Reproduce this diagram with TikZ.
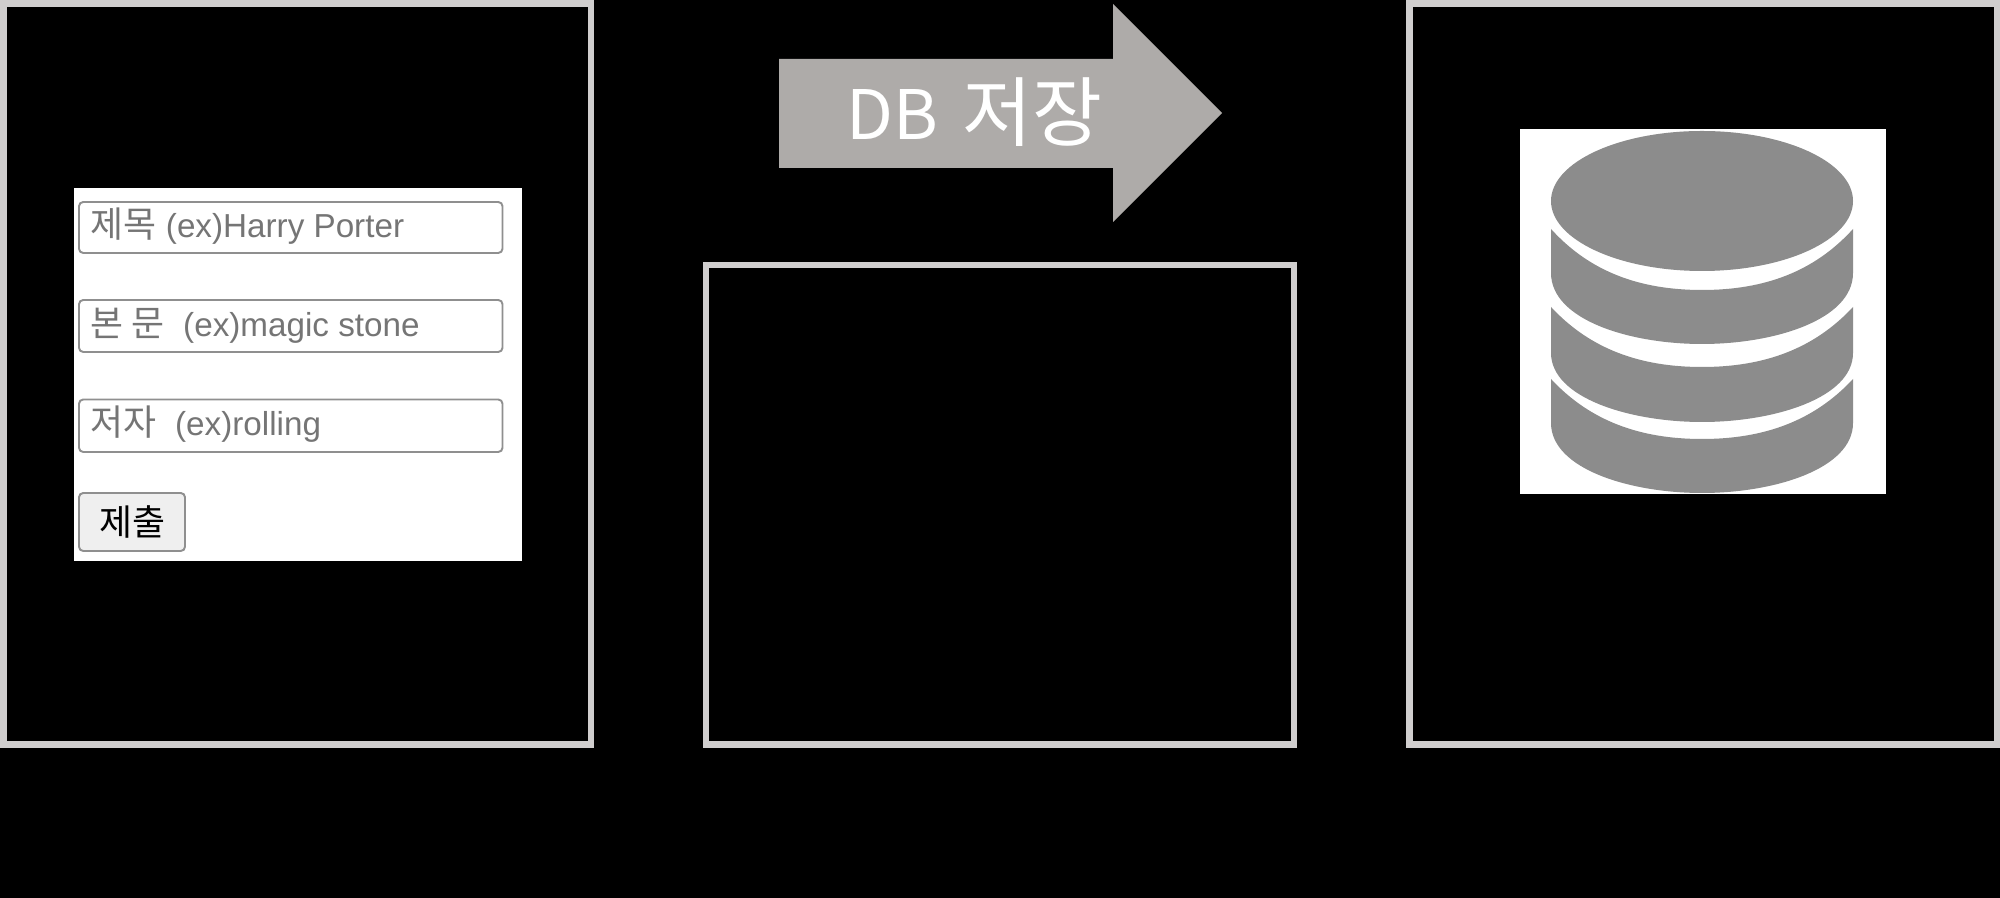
\documentclass[tikz,border=0pt]{standalone}
\usepackage{fontspec}
\setmainfont{Liberation Sans}
\newfontfamily\cjk{Noto Sans CJK KR}
\newcommand{\kor}[1]{{\cjk\fontsize{10.2}{12}\selectfont #1}}
\usetikzlibrary{calc}
\definecolor{framegray}{HTML}{D0CECE}
\definecolor{arrowgray}{HTML}{AEABA9}
\definecolor{fieldgray}{HTML}{8F8F8F}
\definecolor{hintgray}{HTML}{757575}
\definecolor{dbgray}{HTML}{8C8C8C}
\definecolor{btngray}{HTML}{EFEFEF}
\tikzset{
    framebox/.style={draw=framegray, line width=1.95pt},
    fieldbox/.style={draw=fieldgray, fill=white, line width=0.55pt, rounded corners=1.2pt},
    hinttext/.style={anchor=base west, inner sep=0pt, text=hintgray, font=\fontsize{9.45}{12}\selectfont}
}
\begin{document}
\begin{tikzpicture}[x=0.01cm,y=-0.01cm]
        %LATAR
        \fill[black] (0,0) rectangle (2000,898);
        \useasboundingbox (0,0) rectangle (2000,898);

        %BINGKAI
        \draw[framebox] (3.4,3.4) rectangle (591,744.5);
        \draw[framebox] (706,265) rectangle (1294,744.5);
        \draw[framebox] (1409.3,3.4) rectangle (1997,744.5);

        %PANAH
        \coordinate (P1) at (779,59);
        \coordinate (P2) at (1113,59);
        \coordinate (P3) at (1113,4);
        \coordinate (P4) at (1222,113);
        \coordinate (P5) at (1113,222);
        \coordinate (P6) at (1113,168);
        \coordinate (P7) at (779,168);
        \fill[arrowgray] (P1) -- (P2) -- (P3) -- (P4) -- (P5) -- (P6) -- (P7) -- cycle;
        \node[white, anchor=base west, inner sep=0pt, font=\cjk\fontsize{19.4}{24}\selectfont] (saveA) at (846,140) {DB};
        \node[white, anchor=base west, inner sep=0pt, font=\cjk\fontsize{21.6}{26}\selectfont] (saveB) at (962,141) {저장};

        %FORMULIR
        \fill[white] (74,188) rectangle (522,561.5);
        \draw[fieldbox] (79,202) rectangle (502.5,253);
        \draw[fieldbox] (79,300) rectangle (502.5,352);
        \draw[fieldbox] (79,399.5) rectangle (502.5,452);
        \draw[fieldbox, fill=btngray] (79,493) rectangle (185,551);
        \node[hinttext] (title) at (90,238) {\kor{제목} (ex)Harry Porter};
        \node[hinttext] (body) at (90,337) {\kor{본 문}\ \ (ex)magic stone};
        \node[hinttext] (author) at (90,436) {\kor{저자}\ \ (ex)rolling};
        \node[inner sep=0pt, font=\cjk\fontsize{10.2}{12}\selectfont] (submit) at (132.5,522) {제출};

        %BASIS DATA
        \fill[white] (1520,129) rectangle (1886,494);
        \fill[dbgray] (1702,201) ellipse [x radius=151, y radius=70];
        \foreach \ya/\yb/\yc/\yd in {229/290/273/344, 307/367/353/422, 379/439/423/493}{
            \fill[dbgray] (1551,\ya) .. controls (1590,\yb-18) and (1640,\yb) .. (1702,\yb)
                .. controls (1764,\yb) and (1814,\yb-18) .. (1853,\ya)
                -- (1853,\yc) .. controls (1853,\yd-24) and (1774,\yd) .. (1702,\yd)
                .. controls (1630,\yd) and (1551,\yd-24) .. (1551,\yc) -- cycle;
        }
\end{tikzpicture}
\end{document}
